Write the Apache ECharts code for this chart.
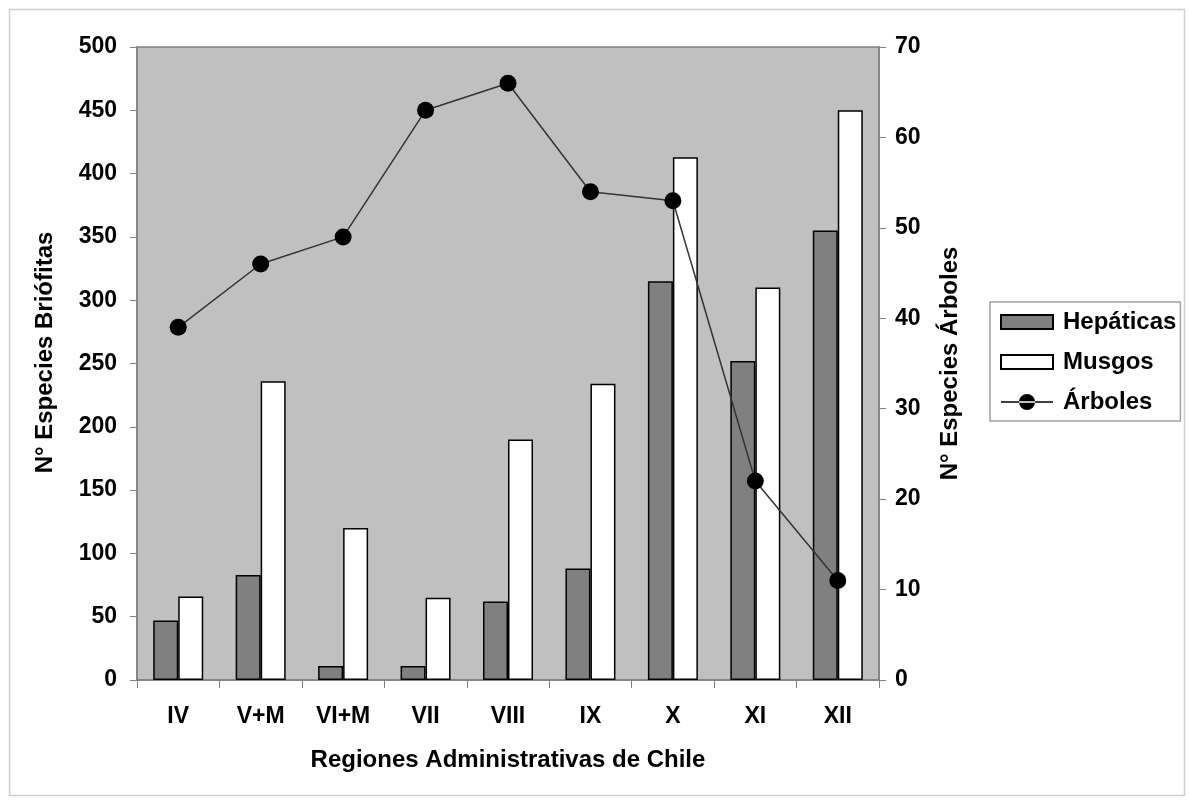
<!DOCTYPE html>
<html>
<head>
<meta charset="utf-8">
<title>Especies de briófitas y árboles por región</title>
<script src="https://cdn.jsdelivr.net/npm/echarts@6/dist/echarts.min.js"></script>
<style>
  html, body { margin: 0; padding: 0; background: #ffffff; }
  #chart { width: 1189px; height: 800px; }
</style>
</head>
<body>
<div id="chart"></div>
<script>
// Regiones administrativas (eje de categorías)
const regiones = ['IV', 'V+M', 'VI+M', 'VII', 'VIII', 'IX', 'X', 'XI', 'XII'];
// Número de especies de hepáticas y musgos (eje izquierdo)
const hepaticas = [47, 83, 11, 11, 62, 88, 315, 252, 355];
const musgos = [66, 236, 120, 65, 190, 234, 413, 310, 450];
// Número de especies de árboles (eje derecho)
const arboles = [39, 46, 49, 63, 66, 54, 53, 22, 11];

const FONT = '"Liberation Sans", Arial, sans-serif';
const axisGray = '#808080';
const tickFont = { fontFamily: FONT, fontSize: 23, fontWeight: 'bold', color: '#000' };
const nameFont = { fontFamily: FONT, fontSize: 24, fontWeight: 'bold', color: '#000' };

// Icono de leyenda: línea horizontal con un círculo en el centro
const lineDotIcon = 'path://M0,7.3 L52,7.3 L52,8.7 L0,8.7 Z M18,8 A8,8 0 1,0 34,8 A8,8 0 1,0 18,8 Z';

const chart = echarts.init(document.getElementById('chart'), null, { renderer: 'canvas' });

chart.setOption({
  backgroundColor: '#ffffff',
  animation: false,
  textStyle: { fontFamily: FONT },
  graphic: [{
    type: 'rect',
    left: 7, top: 7,
    shape: { width: 1175, height: 786 },
    style: { fill: 'none', stroke: '#cfcfcf', lineWidth: 1.5 },
    silent: true,
    z: -1
  }],
  grid: {
    left: 137, right: 310, top: 47, bottom: 120,
    show: true,
    backgroundColor: '#c0c0c0',
    borderColor: axisGray,
    borderWidth: 1.5
  },
  legend: {
    orient: 'vertical',
    left: 990, top: 302,
    itemWidth: 52, itemHeight: 16, itemGap: 14,
    padding: [7, 4, 6, 10],
    borderColor: '#a0a0a0', borderWidth: 1.5,
    backgroundColor: '#ffffff',
    textStyle: { fontFamily: FONT, fontSize: 24, fontWeight: 'bold', color: '#000', lineHeight: 26, padding: [0, 0, 0, 5] },
    data: [
      { name: 'Hepáticas', icon: 'path://M0,1 L52,1 L52,15 L0,15 Z' },
      { name: 'Musgos', icon: 'path://M0,1 L52,1 L52,15 L0,15 Z' },
      { name: 'Árboles', icon: lineDotIcon }
    ]
  },
  xAxis: {
    type: 'category',
    data: regiones,
    name: 'Regiones Administrativas de Chile',
    nameLocation: 'middle',
    nameGap: 68,
    nameTextStyle: nameFont,
    axisLine: { lineStyle: { color: axisGray, width: 1.5 } },
    axisTick: { show: true, length: 8, inside: false, lineStyle: { color: axisGray } },
    axisLabel: Object.assign({ margin: 25 }, tickFont)
  },
  yAxis: [{
    type: 'value',
    min: 0, max: 500, interval: 50,
    name: 'N° Especies Briófitas',
    nameLocation: 'middle',
    nameGap: 80,
    nameTextStyle: Object.assign({ padding: [0, 0, 0, 22] }, nameFont),
    axisLine: { show: true, lineStyle: { color: axisGray, width: 1.5 } },
    axisTick: { show: true, length: 7, lineStyle: { color: axisGray } },
    splitLine: { show: false },
    axisLabel: Object.assign({ margin: 20 }, tickFont)
  }, {
    type: 'value',
    min: 0, max: 70, interval: 10,
    name: 'N° Especies Árboles',
    nameLocation: 'middle',
    nameGap: 59,
    nameTextStyle: nameFont,
    axisLine: { show: true, lineStyle: { color: axisGray, width: 1.5 } },
    axisTick: { show: true, length: 7, lineStyle: { color: axisGray } },
    splitLine: { show: false },
    axisLabel: Object.assign({ margin: 16 }, tickFont)
  }],
  series: [{
    name: 'Hepáticas',
    type: 'bar',
    data: hepaticas,
    barWidth: 25,
    barGap: '0%',
    itemStyle: { color: '#808080', borderColor: '#000', borderWidth: 1.5 }
  }, {
    name: 'Musgos',
    type: 'bar',
    data: musgos,
    barWidth: 25,
    itemStyle: { color: '#ffffff', borderColor: '#000', borderWidth: 1.5 }
  }, {
    name: 'Árboles',
    type: 'line',
    yAxisIndex: 1,
    data: arboles,
    symbol: 'circle',
    symbolSize: 17,
    lineStyle: { color: '#333333', width: 1.5 },
    itemStyle: { color: '#000000' },
    z: 5
  }]
});
</script>
</body>
</html>
